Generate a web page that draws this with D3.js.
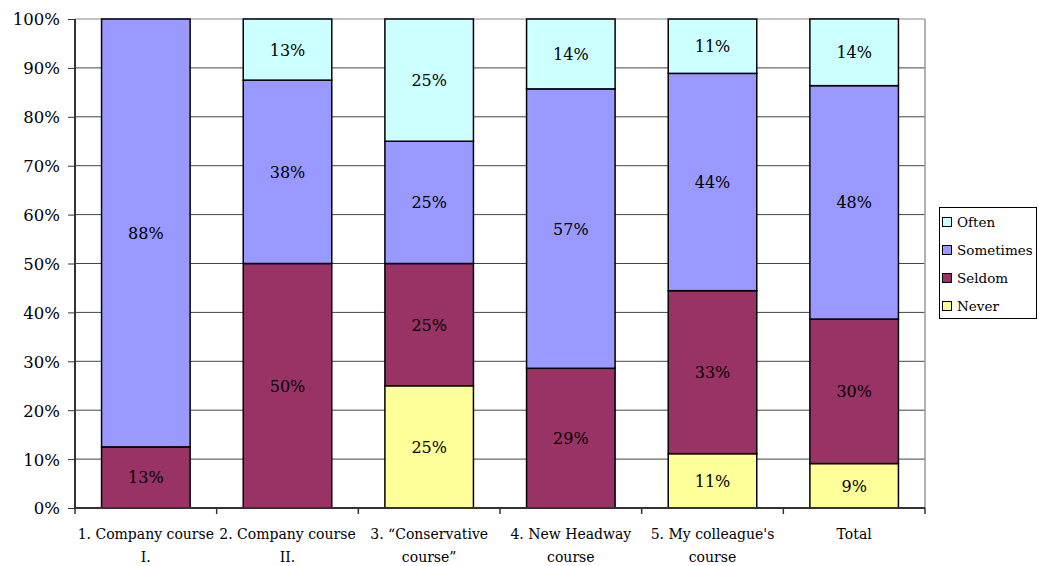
<!DOCTYPE html>
<html><head><meta charset="utf-8">
<script src="https://cdn.jsdelivr.net/npm/d3@7"></script>
<style>body{margin:0;background:#fff}svg{display:block}</style>
</head><body><svg id="c" width="1039" height="566"></svg>
<script>
const categories = ["1. Company course\nI.", "2. Company course\nII.", "3. \u201cConservative\ncourse\u201d", "4. New Headway\ncourse", "5. My colleague's\ncourse", "Total"];
const seriesNames = ["Never", "Seldom", "Sometimes", "Often"];
const never     = [0,    0,    25,   0,    11.11, 9.09];
const seldom    = [12.5, 50,   25,   28.57,33.33, 29.55];
const sometimes = [87.5, 37.5, 25,   57.14,44.44, 47.73];
const often     = [0,    12.5, 25,   14.29,11.11, 13.64];
const yTicks = [0,10,20,30,40,50,60,70,80,90,100];
const colors = {Never:"#FFFF99", Seldom:"#993366", Sometimes:"#9999FF", Often:"#CCFFFF"};
const FONT = "'DejaVu Serif', serif";

const svg = d3.select("#c");
const L=75, R=925, T=19, B=508;
const x = d3.scaleBand().domain(categories).range([L,R]).paddingInner(0.375).paddingOuter(0.1875);
const y = d3.scaleLinear().domain([0,100]).range([B,T]);

// gridlines
svg.append("g").selectAll("line").data(yTicks.slice(1)).join("line")
  .attr("x1",L).attr("x2",R).attr("y1",d=>y(d)).attr("y2",d=>y(d))
  .attr("stroke",d=>d===100?"#888":"#444").attr("stroke-width",1);
svg.append("line").attr("x1",R).attr("x2",R).attr("y1",T).attr("y2",B).attr("stroke","#999").attr("stroke-width",1.5);

const table = categories.map((c,i)=>({cat:c, Never:never[i], Seldom:seldom[i], Sometimes:sometimes[i], Often:often[i]}));
const stack = d3.stack().keys(seriesNames)(table);

const g = svg.append("g");
stack.forEach(s=>{
  const sg = g.append("g");
  s.forEach(d=>{
    const v = d[1]-d[0];
    if (v<=0) return;
    sg.append("rect").attr("x",x(d.data.cat)).attr("width",x.bandwidth())
      .attr("y",y(d[1])).attr("height",y(d[0])-y(d[1]))
      .attr("fill",colors[s.key]).attr("stroke","#000").attr("stroke-width",1.5);
    sg.append("text").attr("x",x(d.data.cat)+x.bandwidth()/2).attr("y",(y(d[0])+y(d[1]))/2+6)
      .attr("text-anchor","middle").attr("font-family",FONT).attr("font-size",16).text(Math.round(v)+"%");
  });
});

// y axis
const ya = svg.append("g").attr("transform",`translate(${L},0)`)
  .call(d3.axisLeft(y).tickValues(yTicks).tickFormat(d=>d+"%").tickSize(7).tickPadding(8));
ya.attr("font-family",FONT).attr("font-size",16.5);
ya.select(".domain").remove();
ya.selectAll(".tick line").attr("stroke","#333");
ya.selectAll(".tick text").attr("fill","#000").attr("dy","0.36em");
svg.append("line").attr("x1",L).attr("x2",L).attr("y1",T).attr("y2",B+1).attr("stroke","#333").attr("stroke-width",2);

// x axis
const xa = svg.append("g").attr("transform",`translate(0,${B})`);
xa.append("line").attr("x1",L).attr("x2",R).attr("y1",0).attr("y2",0).attr("stroke","#333").attr("stroke-width",2);
const bounds = d3.range(categories.length+1).map(i=>L+i*(R-L)/categories.length);
xa.selectAll("line.t").data(bounds).join("line").attr("class","t")
  .attr("x1",d=>d).attr("x2",d=>d).attr("y1",0).attr("y2",6).attr("stroke","#333").attr("stroke-width",1.5);

// category labels
categories.forEach(c=>{
  const cx = x(c)+x.bandwidth()/2;
  const t = svg.append("text").attr("text-anchor","middle").attr("font-family",FONT).attr("font-size",14)
    .attr("x",cx).attr("y",539);
  c.split("\n").forEach((l,i)=>t.append("tspan").attr("x",cx).attr("dy",i?23:0).text(l));
});

// legend
const lg = svg.append("g");
lg.append("rect").attr("x",939.5).attr("y",207.5).attr("width",97).attr("height",111)
  .attr("fill","#fff").attr("stroke","#000").attr("stroke-width",1);
const legendOrder = ["Often","Sometimes","Seldom","Never"];
legendOrder.forEach((k,i)=>{
  const yy = 222 + i*28;
  lg.append("rect").attr("x",942.5).attr("y",yy-4.5).attr("width",9).attr("height",9)
    .attr("fill",colors[k]).attr("stroke","#000").attr("stroke-width",1);
  lg.append("text").attr("x",957).attr("y",yy+5).attr("font-family",FONT).attr("font-size",13.5).text(k);
});
</script></body></html>
